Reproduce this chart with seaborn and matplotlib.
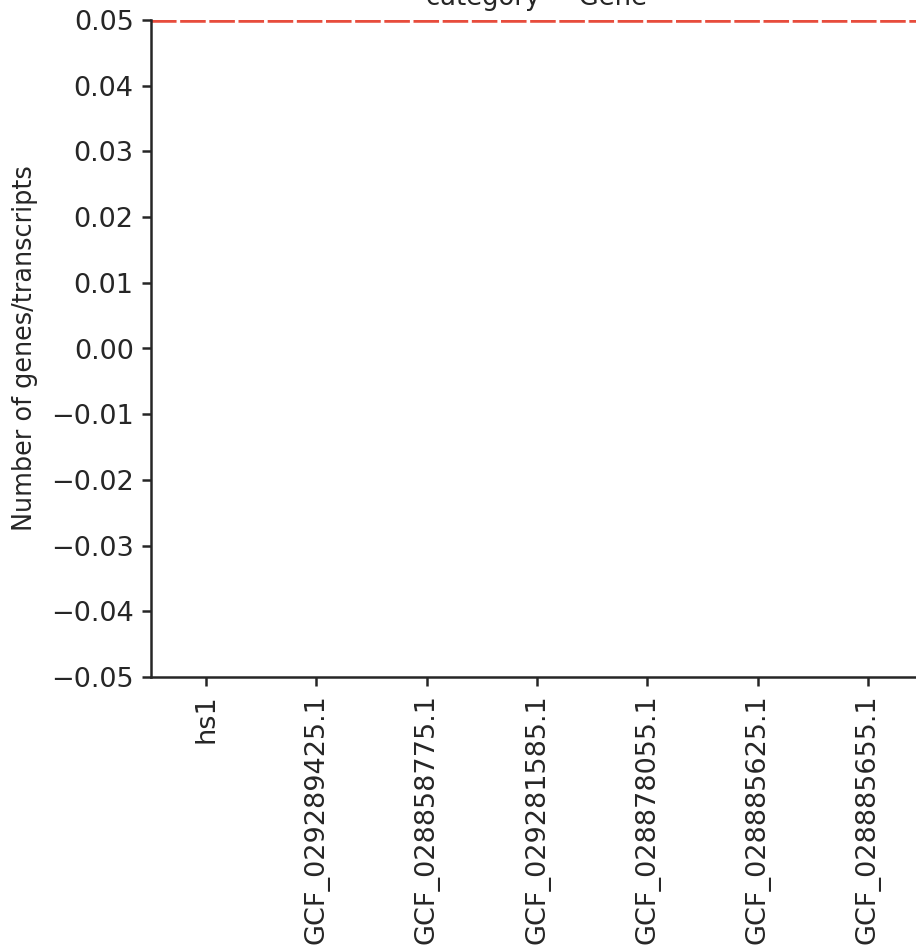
import matplotlib
matplotlib.use("Agg")
import matplotlib.pyplot as plt
import numpy as np
import pandas as pd
import seaborn as sns

# assemblies shown on the x axis (no gene counts recorded for this category)
assemblies = ["hs1", "GCF_029289425.1", "GCF_028858775.1", "GCF_029281585.1",
              "GCF_028878055.1", "GCF_028885625.1", "GCF_028885655.1"]
gene_counts = [np.nan] * len(assemblies)
category = "Gene"
threshold = 0.05

df = pd.DataFrame({"assembly": assemblies, "count": gene_counts})

sns.set_theme(style="ticks")
plt.rcParams["font.family"] = ["DejaVu Sans"]
plt.rcParams["axes.linewidth"] = 1.8
plt.rcParams["xtick.major.width"] = 1.8
plt.rcParams["ytick.major.width"] = 1.8
plt.rcParams["xtick.major.size"] = 6.5
plt.rcParams["ytick.major.size"] = 6.5

fig = plt.figure(figsize=(9.16, 9.46), dpi=100)
ax = fig.add_axes([151 / 916, 269 / 946, 772 / 916, 657 / 946])

sns.barplot(data=df, x="assembly", y="count", order=assemblies, ax=ax, color="#4c72b0")
ax.axhline(threshold, color="#e74c3c", lw=4, dashes=(4.6, 0.65))

ax.set_xlim(-0.5, len(assemblies) - 0.5)
ax.set_ylim(-0.05, 0.05)
ax.set_yticks(np.arange(-0.05, 0.051, 0.01))
ax.set_xlabel("")
ax.set_ylabel("Number of genes/transcripts", fontsize=18.4, labelpad=9)
ax.tick_params(axis="both", labelsize=19.5, pad=6)
plt.setp(ax.get_xticklabels(), rotation=90)
ax.set_title(f"category = {category}", fontsize=18.6, pad=10.5)
sns.despine(ax=ax)

fig.savefig("out.png", dpi=100)
